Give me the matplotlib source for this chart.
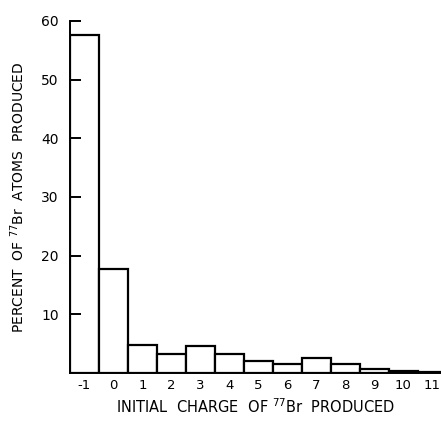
import numpy as np
import matplotlib
matplotlib.use("Agg")
import matplotlib.pyplot as plt

# Initial charge states and percent of 77Br atoms produced
charges = [-1, 0, 1, 2, 3, 4, 5, 6, 7, 8, 9, 10, 11]
percent = [57.6, 17.7, 4.8, 3.2, 4.6, 3.3, 2.1, 1.6, 2.5, 1.6, 0.7, 0.3, 0.1]
tick_labels = ["-1", "0", "1", "2", "3", "4", "5", "6", "7", "8", "9", "10", "11"]
y_ticks = [10, 20, 30, 40, 50, 60]

plt.rcParams['font.family'] = ['DejaVu Sans']

fig = plt.figure(figsize=(4.41, 4.22), dpi=100)
ax = fig.add_axes([70 / 441, 49 / 422, 371 / 441, 352 / 422])

ax.bar(charges, percent, width=1.0, color="white", edgecolor="black", linewidth=1.6)

ax.set_xlim(-1.5, 11.3)
ax.set_ylim(0, 60)
ax.set_xticks(charges)
ax.set_xticklabels(tick_labels, fontsize=9.5)
ax.set_yticks(y_ticks)
ax.set_yticklabels([str(v) for v in y_ticks], fontsize=10)
ax.tick_params(axis="x", length=0, pad=4)
ax.tick_params(axis="y", direction="in", length=8, width=1.4, pad=8)

ax.spines["top"].set_visible(False)
ax.spines["right"].set_visible(False)
ax.spines["left"].set_linewidth(1.4)
ax.spines["bottom"].set_linewidth(1.4)

ax.set_xlabel("INITIAL  CHARGE  OF $^{77}$Br  PRODUCED", fontsize=10.5, labelpad=4)
ax.set_ylabel("PERCENT  OF $^{77}$Br  ATOMS  PRODUCED", fontsize=10, labelpad=10)

fig.savefig("out.png", dpi=100)
